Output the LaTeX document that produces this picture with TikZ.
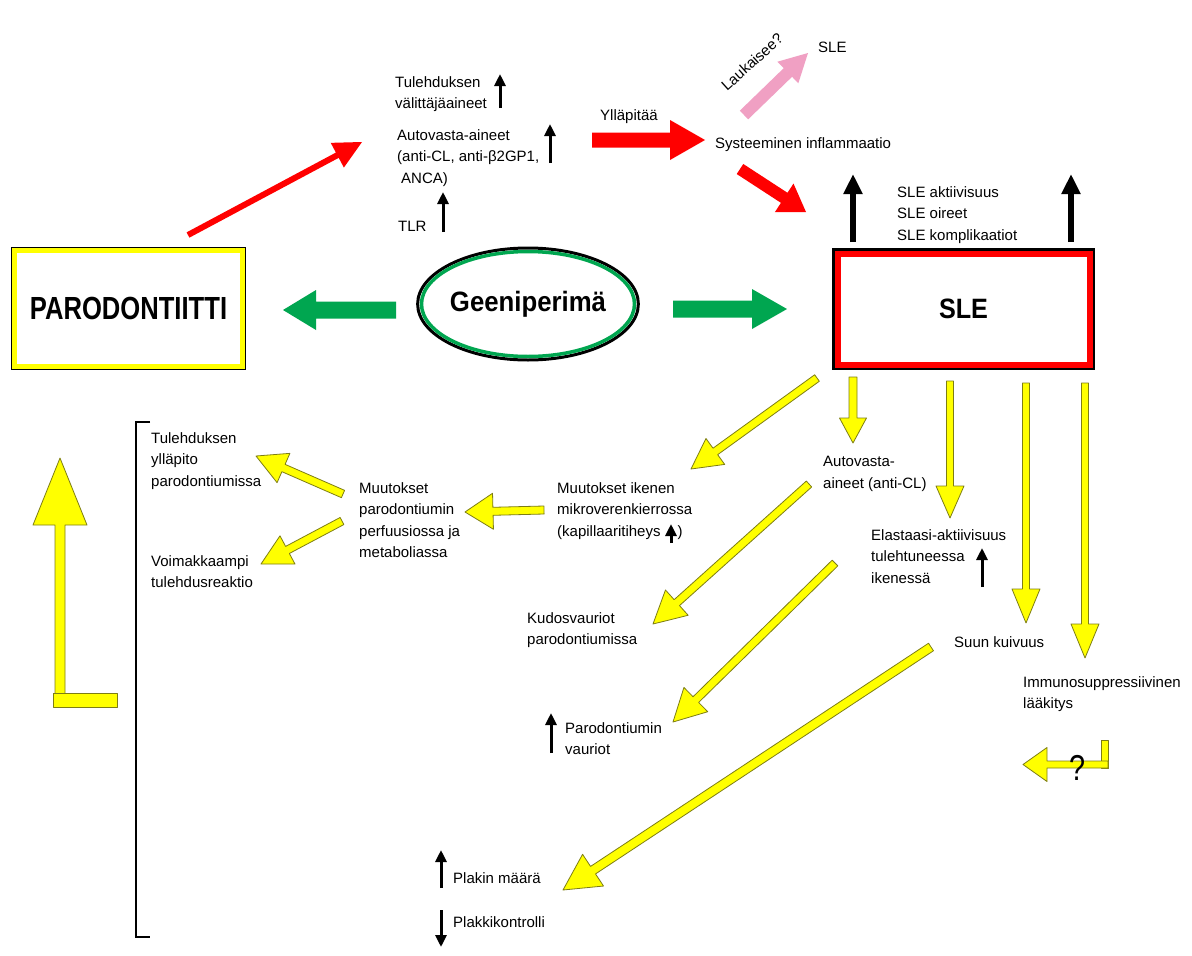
\documentclass[tikz,border=0pt]{standalone}
\usepackage{fontspec}
\usepackage{graphicx}
\setmainfont{Liberation Sans}
\usetikzlibrary{calc,arrows.meta,shapes.geometric}
\definecolor{ylw}{RGB}{255,255,0}
\definecolor{ylwline}{RGB}{125,125,20}
\definecolor{rd}{RGB}{255,0,0}
\definecolor{grn}{RGB}{0,166,80}
\definecolor{pnk}{RGB}{240,160,195}
% #1 style, #2 tail, #3 tip, #4 shaft half width, #5 head half width, #6 head length
\newcommand{\blockarrow}[6][]{%
  \coordinate (ba-h) at ($(#3)!#6!(#2)$);
  \path[#1] ($(#2)!#4!90:(#3)$) -- ($(ba-h)!#4!90:(#3)$) -- ($(ba-h)!#5!90:(#3)$) -- (#3)
    -- ($(ba-h)!#5!-90:(#3)$) -- ($(ba-h)!#4!-90:(#3)$) -- ($(#2)!#4!-90:(#3)$) -- cycle;}
\tikzset{
  txt/.style={anchor=north west, inner sep=0pt, align=left, font=\fontsize{15}{21.5}\selectfont},
  yarrow/.style={fill=ylw, draw=ylwline, line width=0.8pt, line join=round},
  rarrow/.style={fill=rd},
  garrow/.style={fill=grn},
  parrow/.style={fill=pnk},
  uparrow/.style={line width=3pt, -{Triangle[width=11pt,length=12pt]}},
  bigup/.style={line width=6pt, -{Triangle[width=18pt,length=20pt]}},
}
\begin{document}
\begin{tikzpicture}[x=1pt,y=-1pt]
\useasboundingbox[fill=white] (0,0) rectangle (1192,956);

% ---------- main boxes ----------
\node (par) [minimum width=233.5pt, minimum height=121.5pt, draw=black, line width=1.5pt, inner sep=0pt] at (128.5,308.5)
  {\scalebox{0.8}[1]{\bfseries\fontsize{32}{36}\selectfont PARODONTIITTI}};
\draw[ylw, line width=5pt] ([shift={(3.25pt,-3.25pt)}]par.north west) rectangle ([shift={(-3.25pt,3.25pt)}]par.south east);

\node (sle) [minimum width=258pt, minimum height=117pt, draw=black, line width=5pt, inner sep=0pt] at (963.5,309)
  {\scalebox{0.9}[1]{\bfseries\fontsize{28}{32}\selectfont SLE}};
\draw[rd, line width=6pt] ([shift={(5.5pt,-5.5pt)}]sle.north west) rectangle ([shift={(-5.5pt,5.5pt)}]sle.south east);

\node (gee) [ellipse, minimum width=220pt, minimum height=112pt, draw=black, line width=3pt, inner sep=0pt] at (528,304)
  {\scalebox{0.92}[1]{\bfseries\fontsize{28}{32}\selectfont Geeniperimä}};
\draw[grn, line width=3.5pt] (gee.center) ellipse [x radius=106.5pt, y radius=52.5pt];

% ---------- text nodes ----------
\node[txt] (tv) at (395,76) {Tulehduksen\\välittäjäaineet};
\node[txt] (aa) at (397,129) {Autovasta-aineet\\(anti-CL, anti-β2GP1,\\\hspace{4pt}ANCA)};
\node[txt] (tlr) at (398,221) {TLR};
\node[txt] (yl) at (600,109) {Ylläpitää};
\node[txt] (si) at (715,137) {Systeeminen inflammaatio};
\node[txt] (slet) at (818,42) {SLE};
\node[txt] (lau) [anchor=center, rotate=42] at (752,62) {Laukaisee?};
\node[txt] (slel) at (897,186) {SLE aktiivisuus\\SLE oireet\\SLE komplikaatiot};
\node[txt] (tyl) at (151,432) {Tulehduksen\\ylläpito\\parodontiumissa};
\node[txt] (voi) at (151,555) {Voimakkaampi\\tulehdusreaktio};
\node[txt] (muu) at (359,482) {Muutokset\\parodontiumin\\perfuusiossa ja\\metaboliassa};
\node[txt] (mik) at (557,482) {Muutokset ikenen\\mikroverenkierrossa\\(kapillaaritiheys\hspace{17pt})};
\node[txt] (auto) at (823,456) {Autovasta-\\aineet (anti-CL)};
\node[txt] (kud) at (527,612) {Kudosvauriot\\parodontiumissa};
\node[txt] (ela) at (871,529) {Elastaasi-aktiivisuus\\tulehtuneessa\\ikenessä};
\node[txt] (suu) at (954,636) {Suun kuivuus};
\node[txt] (imm) at (1023,676) {Immunosuppressiivinen\\lääkitys};
\node[txt] (parv) at (565,722) {Parodontiumin\\vauriot};
\node[txt] (pla) at (453,872) {Plakin määrä};
\node[txt] (plk) at (453,916) {Plakkikontrolli};

% ---------- small black arrows ----------
\draw[uparrow] (500,108) -- (500,74);
\draw[uparrow] (550,163) -- (550,124);
\draw[uparrow] (443,232) -- (443,192);
\draw[uparrow] (671,543) -- (671,524);
\draw[uparrow] (982,587) -- (982,548);
\draw[uparrow] (551,753) -- (551,713);
\draw[uparrow] (441,888) -- (441,850);
\draw[uparrow] (441,910) -- (441,947);
\draw[bigup] (853,242) -- (853,174);
\draw[bigup] (1071,242) -- (1071,174);

% ---------- red / pink / green arrows ----------
\coordinate (r1a) at (188,235); \coordinate (r1b) at (362,142);
\blockarrow[rarrow]{r1a}{r1b}{3pt}{14pt}{28pt}
\coordinate (r2a) at (592,140); \coordinate (r2b) at (705,140);
\blockarrow[rarrow]{r2a}{r2b}{7.5pt}{20pt}{35pt}
\coordinate (r3a) at (740,169); \coordinate (r3b) at (806,212);
\blockarrow[rarrow]{r3a}{r3b}{6pt}{17pt}{26pt}
\coordinate (p1a) at (744,115); \coordinate (p1b) at (808,53);
\blockarrow[parrow]{p1a}{p1b}{6pt}{15pt}{28pt}
\coordinate (g1a) at (396,310); \coordinate (g1b) at (283,310);
\blockarrow[garrow]{g1a}{g1b}{8.5pt}{20pt}{33pt}
\coordinate (g2a) at (673,309); \coordinate (g2b) at (787,309);
\blockarrow[garrow]{g2a}{g2b}{8.5pt}{20pt}{35pt}

% ---------- yellow arrows ----------
\coordinate (y1a) at (817,378); \coordinate (y1b) at (691,469);
\blockarrow[yarrow]{y1a}{y1b}{4pt}{16pt}{30pt}
\coordinate (y2a) at (853,377); \coordinate (y2b) at (853,443);
\blockarrow[yarrow]{y2a}{y2b}{4pt}{13.5pt}{25pt}
\coordinate (y3a) at (950,381); \coordinate (y3b) at (950,518);
\blockarrow[yarrow]{y3a}{y3b}{3.5pt}{14pt}{32pt}
\coordinate (y4a) at (1026,383); \coordinate (y4b) at (1026,623);
\blockarrow[yarrow]{y4a}{y4b}{3.5pt}{14pt}{34pt}
\coordinate (y5a) at (1085,383); \coordinate (y5b) at (1085,658);
\blockarrow[yarrow]{y5a}{y5b}{3.5pt}{14pt}{34pt}
\coordinate (y6a) at (809,484); \coordinate (y6b) at (653,624);
\blockarrow[yarrow]{y6a}{y6b}{4pt}{17pt}{32pt}
\coordinate (y7a) at (835,563); \coordinate (y7b) at (673,722);
\blockarrow[yarrow]{y7a}{y7b}{4pt}{17pt}{32pt}
\coordinate (y8a) at (931,647); \coordinate (y8b) at (563,890);
\blockarrow[yarrow]{y8a}{y8b}{4.5pt}{19pt}{36pt}
\coordinate (y9a) at (544,510); \coordinate (y9b) at (465,512);
\blockarrow[yarrow]{y9a}{y9b}{4pt}{18pt}{28pt}
\coordinate (y10a) at (343,494); \coordinate (y10b) at (256,456);
\blockarrow[yarrow]{y10a}{y10b}{4pt}{16pt}{30pt}
\coordinate (y11a) at (342,521); \coordinate (y11b) at (261,564);
\blockarrow[yarrow]{y11a}{y11b}{4pt}{16pt}{30pt}

% big L arrow (left)
\path[yarrow] (55,695) -- (55,525) -- (33,525) -- (60,458) -- (87,525) -- (65,525) -- (65,695) -- cycle;
\path[yarrow] (53,693) rectangle (117,707);
% small L arrow (bottom right)
\path[yarrow] (1101,740) rectangle (1108,768);
\coordinate (l2a) at (1108,764.5); \coordinate (l2b) at (1023,764.5);
\blockarrow[yarrow]{l2a}{l2b}{3.5pt}{17pt}{24pt}
\node (q) [inner sep=0pt] at (1077,768) {\scalebox{0.8}[1]{\fontsize{36}{40}\selectfont ?}};

% ---------- bracket ----------
\draw[line width=2.5pt] (150,422) -- (136,422) -- (136,937) -- (150,937);
\end{tikzpicture}
\end{document}
